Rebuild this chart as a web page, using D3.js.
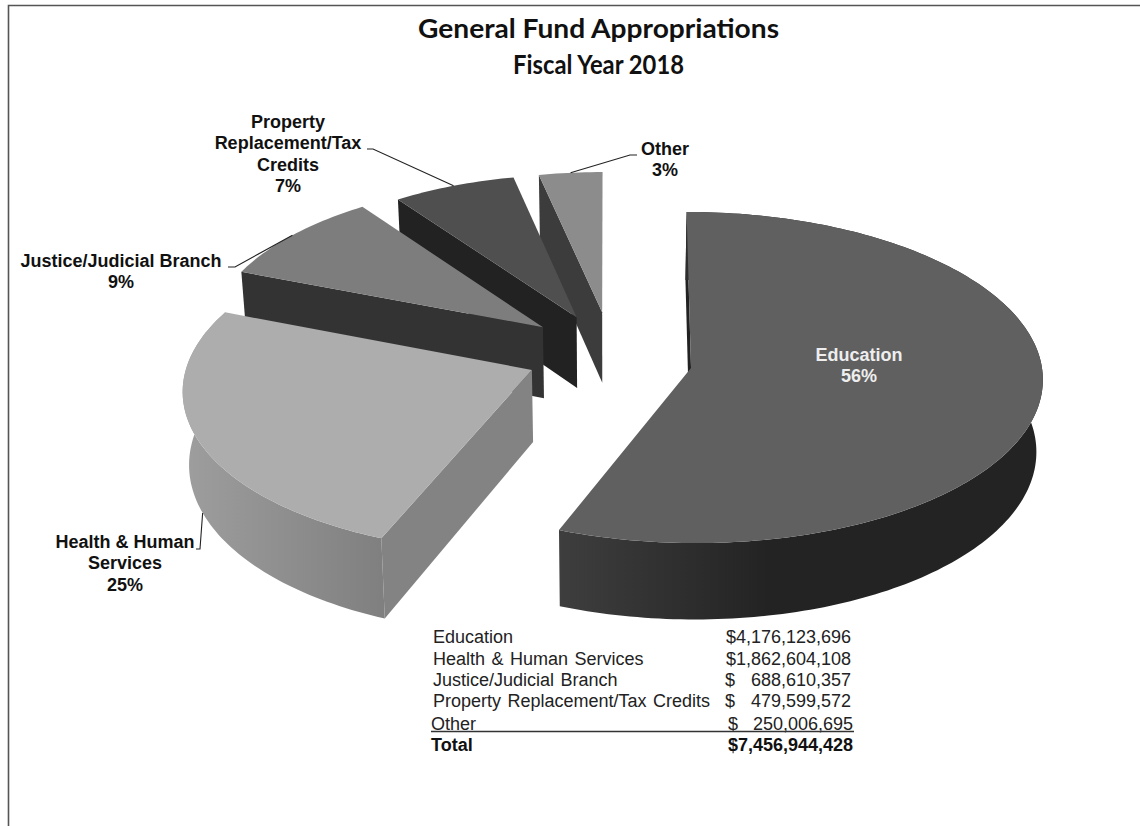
<!DOCTYPE html>
<html>
<head>
<meta charset="utf-8">
<script src="https://cdn.jsdelivr.net/npm/d3@7"></script>
<style>
  body { margin: 0; background: #fff; }
  svg { display: block; }
</style>
</head>
<body>
<div id="chart"></div>
<script>
// Data, clockwise from 12 o'clock
var categories = ["Education", "Health & Human Services", "Justice/Judicial Branch", "Property Replacement/Tax Credits", "Other"];
var amounts = [4176123696, 1862604108, 688610357, 479599572, 250006695];
var percents = ["56%", "25%", "9%", "7%", "3%"];
var total = 7456944428;

// Exploded position of each slice on the pie plane, radius factor, perspective
var offsetX = [81, -78, -68, -34, -8];
var offsetY = [0, -4, 88, 110, 121];
var radiusFactor = [1, 0.985, 0.96, 0.945, 0.93];
var perspective = [0.0575, 0.11, 0.0575, 0.0575, 0.0575];

// Colours: top face, radial wall, outer wall gradient ends
var topFill = ["#606060", "#adadad", "#7d7d7d", "#4f4f4f", "#8c8c8c"];
var wallFill = ["#222222", "#838383", "#333333", "#222222", "#3c3c3c"];
var outerFrom = ["#3e3e3e", "#9e9e9e"];
var outerTo = ["#232323", "#7e7e7e"];

var width = 1140, height = 826;
var cx = 610, cy = 368, R = 351;
var tilt = 165 / R, depth = 72, zShrink = 0.985;

var svg = d3.select("#chart").append("svg")
  .attr("width", width)
  .attr("height", height);

// frame of the scanned page
svg.append("path")
  .attr("d", "M8.5," + height + "V5.5H" + width)
  .attr("fill", "none")
  .attr("stroke", "#555")
  .attr("stroke-width", 1.6);

var pie = d3.pie().sort(null).value(d => d)(amounts);
var line = d3.line();

// slice plane -> screen, z = 0 on the top face, z = 1 on the bottom
function project(i, angle, r, z) {
  var x = offsetX[i] + r * radiusFactor[i] * Math.sin(angle);
  var y = offsetY[i] + r * radiusFactor[i] * Math.cos(angle);
  var p = 1 / (1 + perspective[i] * y / R);
  var xs = z ? zShrink : 1;
  return [cx + x * p * xs, cy - y * tilt * p + z * depth * p];
}

function arcPoints(i, a0, a1, z) {
  var n = Math.ceil(Math.abs(a1 - a0) / 0.02);
  return d3.range(n + 1).map(k => project(i, a0 + (a1 - a0) * k / n, R, z));
}

var defs = svg.append("defs");

// draw back to front
d3.range(amounts.length).reverse().forEach(function (i) {
  var a0 = pie[i].startAngle, a1 = pie[i].endAngle;
  var g = svg.append("g");

  // radial wall on the leading edge
  g.append("path")
    .attr("d", line([project(i, a0, R, 0), project(i, a0, 0, 0), project(i, a0, 0, 1), project(i, a0, R, 1)]) + "Z")
    .attr("fill", wallFill[i]);

  // outer wall on the two front slices
  if (i < 2) {
    var top = arcPoints(i, a0, a1, 0);
    var bottom = arcPoints(i, a1, a0, 1);
    var left = d3.min(top.concat(bottom), d => d[0]);
    var gradient = defs.append("linearGradient")
      .attr("id", "outer" + i)
      .attr("gradientUnits", "userSpaceOnUse")
      .attr("x1", left).attr("y1", 0)
      .attr("x2", left + 210).attr("y2", 0);
    gradient.append("stop").attr("offset", 0).attr("stop-color", outerFrom[i]);
    gradient.append("stop").attr("offset", 1).attr("stop-color", outerTo[i]);
    g.append("path")
      .attr("d", line(top.concat(bottom)) + "Z")
      .attr("fill", "url(#outer" + i + ")");
  }

  // top face
  g.append("path")
    .attr("d", line([project(i, a0, 0, 0)].concat(arcPoints(i, a0, a1, 0))) + "Z")
    .attr("fill", topFill[i]);
});

// Title
var titleLines = ["General Fund Appropriations", "Fiscal Year 2018"];
var titleWidths = [361, 171];
svg.append("g")
  .attr("text-anchor", "middle")
  .attr("font-family", "Lato, sans-serif")
  .attr("font-weight", 700)
  .attr("font-size", 27)
  .attr("fill", "#111")
  .selectAll("text")
  .data(titleLines)
  .join("text")
    .attr("x", 598.5)
    .attr("y", (d, i) => 38 + i * 36)
    .attr("textLength", (d, i) => titleWidths[i])
    .attr("lengthAdjust", "spacingAndGlyphs")
    .text(d => d);

// Slice labels
var sliceLabels = [
  { x: 859, y: 361, lines: ["Education", percents[0]], fill: "#eee" },
  { x: 125, y: 548, lines: ["Health & Human", "Services", percents[1]], fill: "#111" },
  { x: 121, y: 267, lines: ["Justice/Judicial Branch", percents[2]], fill: "#111" },
  { x: 288, y: 128, lines: ["Property", "Replacement/Tax", "Credits", percents[3]], fill: "#111" },
  { x: 665, y: 155, lines: ["Other", percents[4]], fill: "#111" }
];

sliceLabels.forEach(function (l) {
  var t = svg.append("text")
    .attr("text-anchor", "middle")
    .attr("font-family", "Liberation Sans, Arial, sans-serif")
    .attr("font-weight", 700)
    .attr("font-size", 18)
    .attr("fill", l.fill);
  l.lines.forEach(function (s, k) {
    t.append("tspan").attr("x", l.x).attr("y", l.y + k * 21.3).text(s);
  });
});

// Leader lines, ending on the slice edge at its middle angle
function mid(i) { return (pie[i].startAngle + pie[i].endAngle) / 2; }
var leaders = [
  { i: 1, from: [[196, 549], [200, 549]], z: 1 },
  { i: 2, from: [[228, 267], [235, 267]], z: 0 },
  { i: 3, from: [[367, 149], [373, 149]], z: 0 },
  { i: 4, from: [[637, 155], [630, 155]], z: 0 }
];
leaders.forEach(function (l) {
  svg.append("path")
    .attr("d", line(l.from.concat([project(l.i, mid(l.i), R, l.z)])))
    .attr("fill", "none")
    .attr("stroke", "#222")
    .attr("stroke-width", 1.1);
});

// Table under the pie
var rowY = [643, 665, 686, 707, 730];
var rowX = [433, 433, 433, 433, 431];
var moneyRight = [851, 851, 851, 851, 853];
var dollarX = [725, 725, 725, 725, 728];
var fmt = d3.format(",");

var table = svg.append("g")
  .attr("font-family", "Liberation Sans, Arial, sans-serif")
  .attr("font-size", 18)
  .attr("word-spacing", 1.5)
  .attr("fill", "#222");

categories.forEach(function (c, i) {
  table.append("text").attr("x", rowX[i]).attr("y", rowY[i]).text(c);
  if (i < 2) {
    table.append("text").attr("x", moneyRight[i]).attr("y", rowY[i])
      .attr("text-anchor", "end").text("$" + fmt(amounts[i]));
  } else {
    table.append("text").attr("x", dollarX[i]).attr("y", rowY[i]).text("$");
    table.append("text").attr("x", moneyRight[i]).attr("y", rowY[i])
      .attr("text-anchor", "end").text(fmt(amounts[i]));
  }
});

table.append("line")
  .attr("x1", 431).attr("x2", 854)
  .attr("y1", 731.5).attr("y2", 731.5)
  .attr("stroke", "#333")
  .attr("stroke-width", 1.4);

table.append("text").attr("x", 431).attr("y", 751)
  .attr("font-weight", 700).attr("fill", "#111").text("Total");
table.append("text").attr("x", 853).attr("y", 751)
  .attr("text-anchor", "end")
  .attr("font-weight", 700).attr("fill", "#111").text("$" + fmt(total));
</script>
</body>
</html>
